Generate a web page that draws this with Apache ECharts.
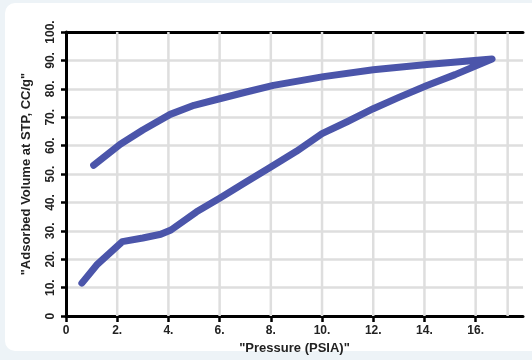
<!DOCTYPE html>
<html>
<head>
<meta charset="utf-8">
<script src="https://cdn.jsdelivr.net/npm/echarts@6/dist/echarts.min.js"></script>
<style>
  html, body { margin: 0; padding: 0; background: #edf3f7; }
  #panel { position: absolute; left: 5px; top: 3px; width: 540px; height: 348px; background: #fff; border-radius: 10px; }
  #chart { position: absolute; left: 0; top: 0; width: 532px; height: 360px; }
</style>
</head>
<body>
<div id="panel"></div>
<div id="chart"></div>
<script>
// adsorption branch (lower curve)
const adsPressure = [0.62, 1.2, 2.2, 3.0, 3.7, 4.1, 5.1, 6.0, 7.0, 8.0, 9.0, 10.0, 11.0, 12.0, 13.0, 14.1, 15.2, 16.64]
const adsVolume = [11.6, 18, 26.2, 27.5, 28.8, 30.3, 36.7, 41.5, 47, 52.5, 58, 64.2, 68.5, 73.0, 77, 81.2, 85, 90.5]
// desorption branch (upper curve)
const desPressure = [16.64, 14.1, 12.0, 10.06, 8.1, 7.0, 6.0, 5.0, 4.07, 3.0, 2.12, 1.08]
const desVolume = [90.5, 88.6, 86.7, 84.3, 81.2, 78.8, 76.5, 74.2, 71, 65.5, 60.5, 53.1]

const xTicks = [0, 2, 4, 6, 8, 10, 12, 14, 16]
const xGrid = [2, 4, 6, 8, 10, 12, 14, 16, 17.25]
const xMax = 17.85

const fmt = v => v === 0 ? '0' : v + '.'

let points = []
adsPressure.forEach((p, i) => points.push([p, adsVolume[i]]))
desPressure.forEach((p, i) => points.push([p, desVolume[i]]))

const chart = echarts.init(document.getElementById('chart'))

const labelFont = {
  color: '#222',
  fontFamily: 'Liberation Sans, Arial, sans-serif',
  fontWeight: 'bold',
  fontSize: 12
}
const gridColor = '#dedede'

// vertical grid lines as plain line series
let gridSeries = xGrid.map(v => ({
  type: 'line',
  data: [[v, 0], [v, 100]],
  silent: true,
  showSymbol: false,
  z: 1,
  lineStyle: { color: gridColor, width: 2.5 },
  emphasis: { disabled: true }
}))

chart.setOption({
  animation: false,
  backgroundColor: 'transparent',
  grid: { left: 66, top: 32, right: 9, bottom: 42 },
  xAxis: [{
    type: 'value',
    min: 0,
    max: xMax,
    interval: 2,
    name: '"Pressure (PSIA)"',
    nameLocation: 'middle',
    nameGap: 24,
    nameTextStyle: Object.assign({}, labelFont, { fontSize: 13 }),
    axisLine: { lineStyle: { color: '#000', width: 3 } },
    axisTick: { customValues: xTicks, length: 6, lineStyle: { color: '#000', width: 2.5 } },
    axisLabel: Object.assign({ customValues: xTicks, margin: 9, formatter: fmt }, labelFont),
    splitLine: { show: false }
  }, {
    type: 'value',
    position: 'top',
    min: 0,
    max: xMax,
    axisLine: { onZero: false, lineStyle: { color: '#000', width: 3 } },
    axisTick: { show: false },
    axisLabel: { show: false },
    splitLine: { show: false }
  }],
  yAxis: {
    type: 'value',
    min: 0,
    max: 100,
    interval: 10,
    name: '"Adsorbed Volume at STP, CC/g"',
    nameLocation: 'middle',
    nameGap: 33,
    nameTextStyle: Object.assign({}, labelFont, { fontSize: 13 }),
    axisLine: { show: true, lineStyle: { color: '#000', width: 3 } },
    axisTick: { show: true, length: 5, lineStyle: { color: '#000', width: 2.5 } },
    axisLabel: Object.assign({ rotate: 90, margin: 9, formatter: fmt }, labelFont),
    splitLine: { show: true, lineStyle: { color: gridColor, width: 2.5 } }
  },
  series: gridSeries.concat([{
    type: 'line',
    data: points,
    showSymbol: false,
    smooth: false,
    z: 5,
    lineStyle: { color: '#4b55aa', width: 7, cap: 'round', join: 'round' }
  }])
})
</script>
</body>
</html>
